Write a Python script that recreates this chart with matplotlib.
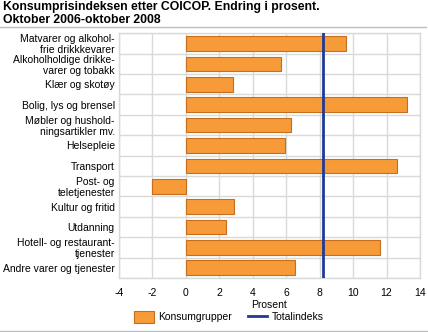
import matplotlib
matplotlib.use("Agg")
from matplotlib import pyplot as plt
from matplotlib.lines import Line2D
from matplotlib.patches import Patch
import numpy as np

categories = [
    "Matvarer og alkohol-\nfrie drikkkevarer",
    "Alkoholholdige drikke-\nvarer og tobakk",
    "Klær og skotøy",
    "Bolig, lys og brensel",
    "Møbler og hushold-\nningsartikler mv.",
    "Helsepleie",
    "Transport",
    "Post- og\nteletjenester",
    "Kultur og fritid",
    "Utdanning",
    "Hotell- og restaurant-\ntjenester",
    "Andre varer og tjenester",
]
konsumgrupper = [9.6, 5.7, 2.8, 13.2, 6.3, 5.9, 12.6, -2.0, 2.9, 2.4, 11.6, 6.5]
totalindeks = 8.2
xticks = [-4, -2, 0, 2, 4, 6, 8, 10, 12, 14]

plt.rcParams['font.family'] = ['Liberation Sans', 'DejaVu Sans']

fig = plt.figure(figsize=(4.28, 3.32), dpi=100)
ax = fig.add_axes([119/428, 1 - 278/332, (420 - 119)/428, (278 - 33.3)/332])

y = np.arange(len(categories))
ax.barh(y, konsumgrupper, height=0.72, color='#F79A38', edgecolor='#C46E1E', linewidth=0.8, zorder=3)
ax.axvline(totalindeks, color='#1F3A93', linewidth=2, zorder=4)

ax.set_xlim(-4, 14)
ax.set_ylim(len(categories) - 0.5, -0.5)
ax.set_xticks(xticks)
ax.set_xticklabels([str(t) for t in xticks], fontsize=7.5)
ax.set_yticks(y)
ax.set_yticklabels(categories, fontsize=7.5, linespacing=1.1)
ax.set_yticks(np.arange(len(categories) + 1) - 0.5, minor=True)
ax.tick_params(axis='both', which='both', length=0)
ax.tick_params(axis='x', which='major', pad=7)
ax.tick_params(axis='y', which='major', pad=3)
ax.grid(axis='x', color='#D9D9D9', linewidth=1, zorder=0)
ax.grid(axis='y', which='minor', color='#D9D9D9', linewidth=1, zorder=0)
for s in ax.spines.values():
    s.set_color('#D9D9D9')
    s.set_linewidth(1)
ax.set_xlabel("Prosent", fontsize=7.5, labelpad=2)

fig.text(0.008, 0.997, "Konsumprisindeksen etter COICOP. Endring i prosent.\nOktober 2006-oktober 2008",
         fontsize=8.8, fontweight='bold', va='top', ha='left', linespacing=1.15)
fig.add_artist(Line2D([0, 426/428], [1 - 27.3/332] * 2, color='#BDBDBD', linewidth=1))
fig.add_artist(Line2D([0, 1], [1 - 330.5/332] * 2, color='#BDBDBD', linewidth=1))

handles = [Patch(facecolor='#F79A38', edgecolor='#C46E1E', linewidth=0.8),
           Line2D([0], [0], color='#1F3A93', linewidth=2)]
fig.legend(handles, ["Konsumgrupper", "Totalindeks"], loc='center', ncol=2,
           bbox_to_anchor=(229/428, 1 - 317/332), frameon=False, fontsize=7.5,
           handlelength=1.9, handleheight=1.3, columnspacing=1.5, handletextpad=0.4)

fig.savefig("out.png", dpi=100)
